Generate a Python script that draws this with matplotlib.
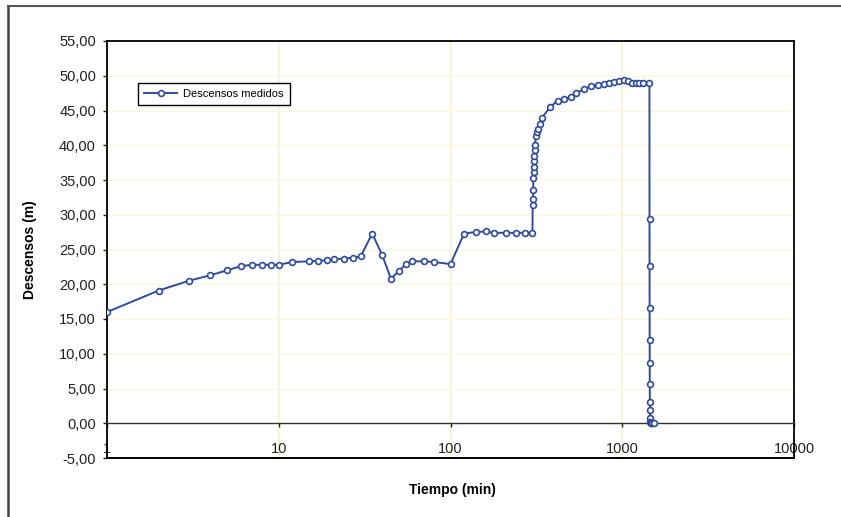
import matplotlib
matplotlib.use("Agg")
import matplotlib.pyplot as plt
from matplotlib.ticker import FixedLocator, FuncFormatter, NullLocator
from matplotlib.lines import Line2D

plt.rcParams['font.family'] = ['Liberation Sans', 'DejaVu Sans']

# Pumping test: measured drawdown vs elapsed time
tiempo = [1, 2, 3, 4, 5, 6, 7, 8, 9, 10, 12, 15, 17, 19, 21, 24, 27, 30,
          35, 40, 45, 50, 55, 60, 70, 80, 100,
          120, 140, 160, 180, 210, 240, 270, 300,
          301, 302, 303, 304, 305, 306, 307, 308, 309, 310,
          315, 318, 322, 330, 340, 380, 420, 460, 500, 540, 600, 660,
          720, 780, 840, 900, 960, 1020, 1080, 1140, 1200, 1260, 1320, 1440,
          1441, 1442, 1443, 1444, 1445, 1446, 1448, 1450, 1455, 1460,
          1470, 1480, 1500, 1530]
descensos = [16.0, 19.1, 20.5, 21.3, 22.0, 22.6, 22.8, 22.8, 22.8, 22.8,
             23.2, 23.3, 23.35, 23.45, 23.6, 23.7, 23.8, 24.0,
             27.3, 24.2, 20.8, 21.9, 22.9, 23.3, 23.3, 23.2, 22.9,
             27.3, 27.5, 27.6, 27.4, 27.4, 27.4, 27.4, 27.4,
             31.4, 32.2, 33.6, 35.3, 36.2, 36.9, 37.7, 38.4, 39.3, 40.1,
             41.3, 41.9, 42.4, 43.0, 43.9, 45.5, 46.4, 46.7, 46.9, 47.5,
             48.1, 48.5, 48.7, 48.8, 48.9, 49.1, 49.2, 49.35, 49.3, 49.0,
             49.0, 49.0, 48.9, 48.9,
             29.4, 22.6, 16.6, 12.0, 8.6, 5.6, 3.0, 1.9, 0.7, 0.2,
             0.1, 0.0, 0.0, 0.0]

x_ticks = [1, 10, 100, 1000, 10000]
x_labels = ["1", "10", "100", "1000", "10000"]
y_ticks = list(range(-5, 56, 5))

serie = "Descensos medidos"
azul = "#2f4c9c"

W, H = 841, 517
fig = plt.figure(figsize=(W / 100, H / 100), dpi=100)
ax = fig.add_axes([107 / W, 1 - 458 / H, (794 - 107) / W, (458 - 41) / H])

ax.set_xscale("log")
ax.set_xlim(1, 10000)
ax.set_ylim(-5, 55)

# faint background grid
for xv in x_ticks[1:-1]:
    ax.axvline(xv, color="#f8f1cf", lw=1.2, zorder=0)
for yv in y_ticks[1:-1]:
    ax.axhline(yv, color="#fbf6e0", lw=1.0, zorder=0)

ax.plot(tiempo, descensos, color=azul, lw=1.4, marker="o", ms=4.2,
        mfc="white", mec=azul, mew=1.2, label=serie, zorder=3)

# horizontal axis crosses at zero; keep the frame line at the bottom
ax.spines["bottom"].set_position(("data", 0))
ax.spines["bottom"].set_linewidth(1.0)
ax.spines["bottom"].set_color("#333333")
ax.add_line(Line2D([0, 1], [0, 0], transform=ax.transAxes, color="black",
                   lw=1.4, clip_on=False))
for s in ("left", "right", "top"):
    ax.spines[s].set_linewidth(1.3)
    ax.spines[s].set_color("black")

ax.xaxis.set_major_locator(FixedLocator(x_ticks))
ax.xaxis.set_minor_locator(NullLocator())
ax.set_xticklabels(x_labels)
ax.yaxis.set_major_locator(FixedLocator(y_ticks))
ax.yaxis.set_major_formatter(FuncFormatter(lambda v, p: f"{v:.2f}".replace(".", ",")))

ax.tick_params(axis="x", direction="out", length=3, width=1, pad=10.5,
               labelsize=10.5, colors="#222222")
ax.tick_params(axis="y", direction="out", length=3, width=1, pad=5,
               labelsize=10.5, colors="#222222")

leg = ax.legend(loc="upper left", bbox_to_anchor=(0.045, 0.9), borderaxespad=0,
                fancybox=False, edgecolor="black", framealpha=1, fontsize=8,
                handlelength=3.0, handletextpad=0.5, borderpad=0.55)
leg.get_frame().set_linewidth(1.0)

fig.text(30 / W, 1 - 250 / H, "Descensos (m)", rotation=90, ha="center",
         va="center", fontsize=10, fontweight="bold")
fig.text(452 / W, 1 - 490 / H, "Tiempo (min)", ha="center", va="center",
         fontsize=10, fontweight="bold")

# outer chart frame
fig.add_artist(Line2D([8 / W, 8 / W], [0, 1 - 6 / H], color="#444444", lw=1.8))
fig.add_artist(Line2D([8 / W, 1], [1 - 6 / H, 1 - 6 / H], color="#555555", lw=1.5))

fig.savefig("out.png", dpi=100)
